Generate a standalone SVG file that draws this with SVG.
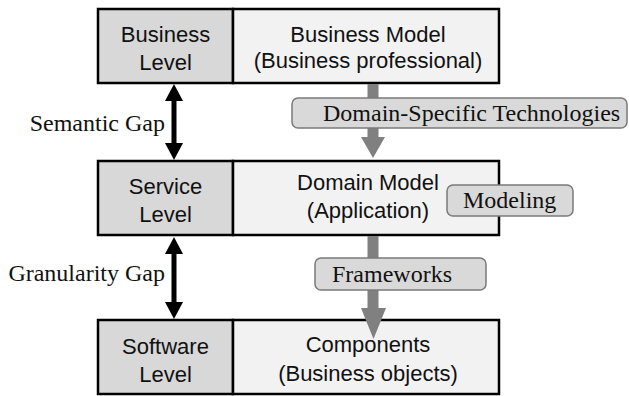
<svg xmlns="http://www.w3.org/2000/svg" width="629" height="396" viewBox="0 0 629 396">
<style>
.lvl{fill:#d8d8d8;stroke:#000;stroke-width:2.5}
.mdl{fill:#f2f2f2;stroke:#000;stroke-width:2.5}
.sans{font-family:"Liberation Sans",Arial,sans-serif;font-size:22px;fill:#111;text-anchor:middle}
.serif{font-family:"Liberation Serif","Times New Roman",serif;font-size:24px;fill:#111}
.tag{fill:#d9d9d9;stroke:#7a7a7a;stroke-width:1.5}
.garrow{fill:#808080}
.barrow{fill:#000}
</style>
<rect width="629" height="396" fill="#fff"/>
<g id="business-level">
<rect class="lvl" x="98" y="9" width="135" height="74"/>
<text class="sans" x="165.5" y="42">Business</text>
<text class="sans" x="165.5" y="70">Level</text>
</g>
<g id="business-model">
<rect class="mdl" x="233" y="9" width="266" height="74"/>
<text class="sans" x="368" y="42">Business Model</text>
<text class="sans" x="368" y="68">(Business professional)</text>
</g>
<g id="service-level">
<rect class="lvl" x="98" y="161" width="135" height="74"/>
<text class="sans" x="165.5" y="194">Service</text>
<text class="sans" x="165.5" y="222">Level</text>
</g>
<g id="domain-model">
<rect class="mdl" x="233" y="161" width="266" height="74"/>
<text class="sans" x="368" y="190">Domain Model</text>
<text class="sans" x="368" y="218">(Application)</text>
</g>
<g id="software-level">
<rect class="lvl" x="98" y="320" width="135" height="74"/>
<text class="sans" x="165.5" y="354">Software</text>
<text class="sans" x="165.5" y="382">Level</text>
</g>
<g id="components">
<rect class="mdl" x="233" y="320" width="266" height="74"/>
<text class="sans" x="368" y="352">Components</text>
<text class="sans" x="368" y="381">(Business objects)</text>
</g>
<g id="connectors">
<rect class="garrow" x="367.5" y="84" width="11" height="54"/>
<polygon class="garrow" points="361,137 385,137 373,158"/>
<rect class="garrow" x="367.5" y="236" width="11" height="73"/>
<polygon class="garrow" points="361,308 386,308 373.5,339"/>
<rect class="barrow" x="171.5" y="100" width="5" height="44"/>
<polygon class="barrow" points="174,84 165,101 183,101"/>
<polygon class="barrow" points="174,160 165,143 183,143"/>
<rect class="barrow" x="171.5" y="253" width="5" height="50"/>
<polygon class="barrow" points="174,237 165,254 183,254"/>
<polygon class="barrow" points="174,319 165,302 183,302"/>
</g>
<g id="semantic-gap">
<text class="serif" x="165" y="131" text-anchor="end">Semantic Gap</text>
</g>
<g id="granularity-gap">
<text class="serif" x="165" y="281" text-anchor="end">Granularity Gap</text>
</g>
<g id="domain-specific-technologies">
<rect class="tag" x="292" y="98" width="335" height="30" rx="6"/>
<text class="serif" x="323" y="121">Domain-Specific Technologies</text>
</g>
<g id="modeling">
<rect class="tag" x="447" y="185" width="126" height="31" rx="6"/>
<text class="serif" x="463" y="208">Modeling</text>
</g>
<g id="frameworks">
<rect class="tag" x="315" y="258" width="171" height="32" rx="6"/>
<text class="serif" x="332" y="282">Frameworks</text>
</g>
</svg>
